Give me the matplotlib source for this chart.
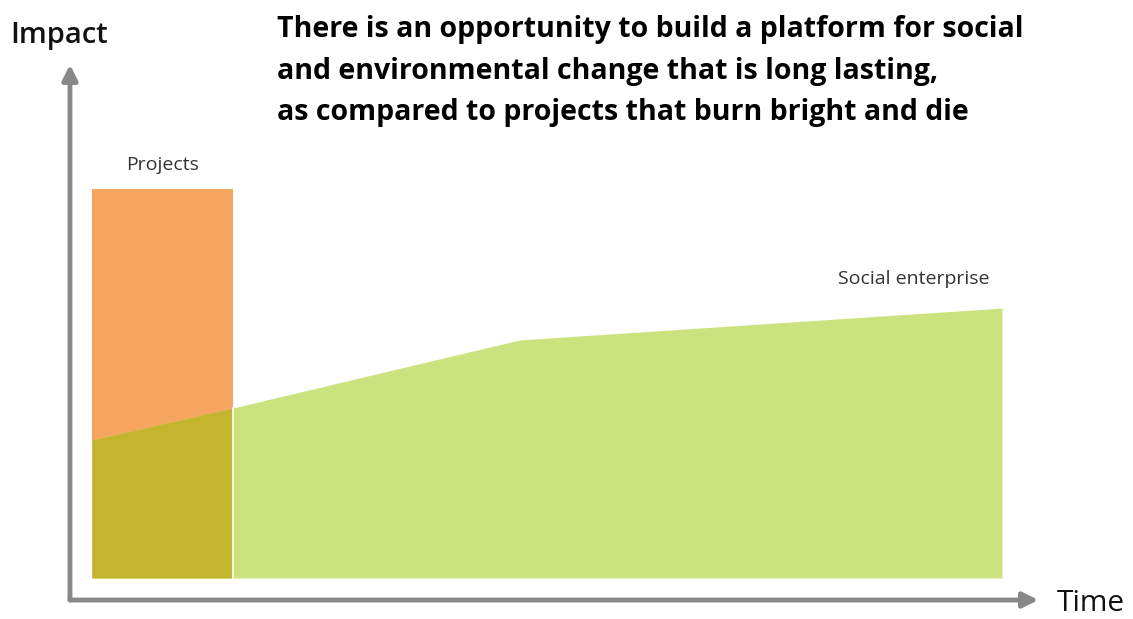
import matplotlib.pyplot as plt

# --- data (time in arbitrary units, impact in arbitrary units) ---
project_start = 0.0
project_end = 1.55
project_impact = 10.0

enterprise_time = [0.0, 1.55, 3.4, 4.7, 10.0]
enterprise_impact = [3.55, 4.37, 5.40, 6.12, 6.94]

title_lines = [
    "There is an opportunity to build a platform for social",
    "and environmental change that is long lasting,",
    "as compared to projects that burn bright and die",
]

orange = "#F5A55F"
green = "#CBE27E"
olive = "#C4B52F"
grey = "#888888"

plt.rcParams["font.family"] = ["Open Sans", "DejaVu Sans"]

fig = plt.figure(figsize=(11.33, 6.19), dpi=100)
ax = fig.add_axes([0, 0, 1, 1])
ax.set_xlim(-1.011, 11.44)
ax.set_ylim(-1.054, 14.86)
ax.axis("off")

# projects bar
ax.fill_between([project_start, project_end], 0, project_impact,
                color=orange, linewidth=0, zorder=1)

# social enterprise area
ax.fill_between(enterprise_time, 0, enterprise_impact,
                color=green, linewidth=0, zorder=2)

# overlap of both
overlap_t = [t for t in enterprise_time if t <= project_end]
overlap_v = enterprise_impact[:len(overlap_t)]
ax.fill_between(overlap_t, 0, overlap_v, color=olive, linewidth=0, zorder=3)
ax.plot([project_end, project_end], [0, enterprise_impact[1]],
        color="white", linewidth=1.2, zorder=4)

# axis arrows
arrow = dict(arrowstyle="-|>,head_length=0.9,head_width=0.45",
             color=grey, linewidth=3.5, shrinkA=0, shrinkB=0)
ax.annotate("", xy=(-0.242, 13.2), xytext=(-0.242, -0.566), arrowprops=arrow)
ax.annotate("", xy=(10.4, -0.566), xytext=(-0.242, -0.566), arrowprops=arrow)

ax.text(-0.9, 13.95, "Impact", fontsize=21, fontweight="semibold",
        va="center", ha="left", color="#111111")
ax.text(10.6, -0.66, "Time", fontsize=21.5, va="center", ha="left", color="#111111")

ax.text(0.37, 10.63, "Projects", fontsize=14, va="center", ha="left", color="#333333")
ax.text(8.2, 7.69, "Social enterprise", fontsize=14, va="center", ha="left", color="#333333")

for i, line in enumerate(title_lines):
    ax.text(2.03, 14.1 - i * 1.07, line, fontsize=20.5, fontweight="bold",
            va="center", ha="left", color="black")

fig.savefig("out.png", dpi=100)
